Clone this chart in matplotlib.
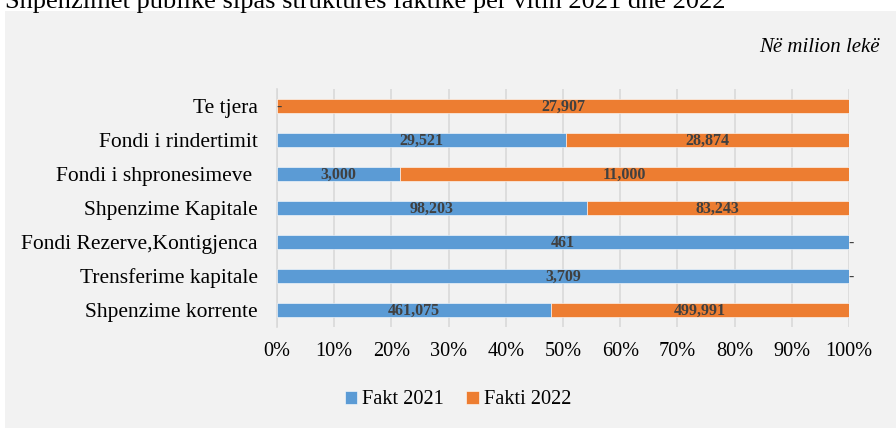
import matplotlib
matplotlib.use("Agg")
import matplotlib.pyplot as plt
import numpy as np

categories = [
    "Shpenzime korrente",
    "Trensferime kapitale",
    "Fondi Rezerve,Kontigjenca",
    "Shpenzime Kapitale",
    "Fondi i shpronesimeve ",
    "Fondi i rindertimit",
    "Te tjera",
]
fakt_2021 = [461075, 3709, 461, 98203, 3000, 29521, 0]
fakti_2022 = [499991, 0, 0, 83243, 11000, 28874, 27907]

series_names = ["Fakt 2021", "Fakti 2022"]
xtick_labels = ["0%", "10%", "20%", "30%", "40%", "50%", "60%", "70%", "80%", "90%", "100%"]

BLUE = "#5b9bd5"
ORANGE = "#ed7d31"
BG = "#f2f2f2"
LABEL_C = "#404040"

plt.rcParams["font.family"] = ["Liberation Serif", "DejaVu Serif"]

fig = plt.figure(figsize=(8.96, 4.28), dpi=100)
fig.patch.set_facecolor("white")

# gray chart panel
panel = plt.Rectangle((5 / 896, 0), 1, 1 - 11 / 428, transform=fig.transFigure,
                      facecolor=BG, edgecolor="none", zorder=-10)
fig.patches.append(panel)

# clipped title on the white strip
fig.text(5 / 896, 1 - 8 / 428,
         "Shpenzimet publike sipas strukturës faktike për vitin 2021 dhe 2022",
         fontsize=19, ha="left", va="baseline", color="black")

fig.text(880 / 896, 1 - 47 / 428, "Në milion lekë", fontsize=15,
         style="italic", ha="right", va="center", color="black")

ax = fig.add_axes([277 / 896, 1 - 327 / 428, (849 - 277) / 896, (327 - 89) / 428])
ax.set_facecolor(BG)
ax.set_zorder(2)

a = np.array(fakt_2021, dtype=float)
b = np.array(fakti_2022, dtype=float)
tot = a + b
pa = a / tot
pb = b / tot
y = np.arange(len(categories))
h = 0.42
dy = -0.04  # labels sit a touch low in the bars

ax.barh(y, pa, height=h, color=BLUE, edgecolor="white", linewidth=0.4,
        label=series_names[0], zorder=3)
ax.barh(y, pb, left=pa, height=h, color=ORANGE, edgecolor="white", linewidth=0.4,
        label=series_names[1], zorder=3)

for i in range(len(categories)):
    if a[i] > 0:
        ax.text(pa[i] / 2, y[i] + dy, f"{int(a[i]):,}", ha="center", va="center",
                fontsize=11.5, fontweight="bold", color=LABEL_C, zorder=4)
    else:
        ax.text(0.004, y[i] + dy, "-", ha="center", va="center",
                fontsize=11.5, fontweight="bold", color=LABEL_C, zorder=4)
    if b[i] > 0:
        ax.text(pa[i] + pb[i] / 2, y[i] + dy, f"{int(b[i]):,}", ha="center", va="center",
                fontsize=11.5, fontweight="bold", color=LABEL_C, zorder=4)
    else:
        ax.text(1.004, y[i] + dy, "-", ha="center", va="center",
                fontsize=11.5, fontweight="bold", color=LABEL_C, zorder=4, clip_on=False)

ax.set_xlim(0, 1)
ax.set_ylim(-0.5, len(categories) - 0.5)
ax.set_xticks(np.linspace(0, 1, 11))
ax.set_xticklabels(xtick_labels)
ax.set_yticks(y)
ax.set_yticklabels(categories)
ax.tick_params(axis="x", length=0, pad=11, labelsize=14.6)
ax.tick_params(axis="y", length=0, pad=14, labelsize=15.5)
ax.grid(axis="x", color="#d9d9d9", linewidth=1.2, zorder=1)
for s in ["top", "right", "bottom"]:
    ax.spines[s].set_visible(False)
ax.spines["left"].set_color("#d9d9d9")
ax.spines["left"].set_linewidth(1.2)

fig.legend(loc="center", bbox_to_anchor=(458 / 896, 1 - 400 / 428), ncol=2,
           frameon=False, fontsize=14.7, handlelength=0.6, handleheight=0.6,
           handletextpad=0.25, columnspacing=1.1)

fig.savefig("out.png", dpi=100, facecolor=fig.get_facecolor())
